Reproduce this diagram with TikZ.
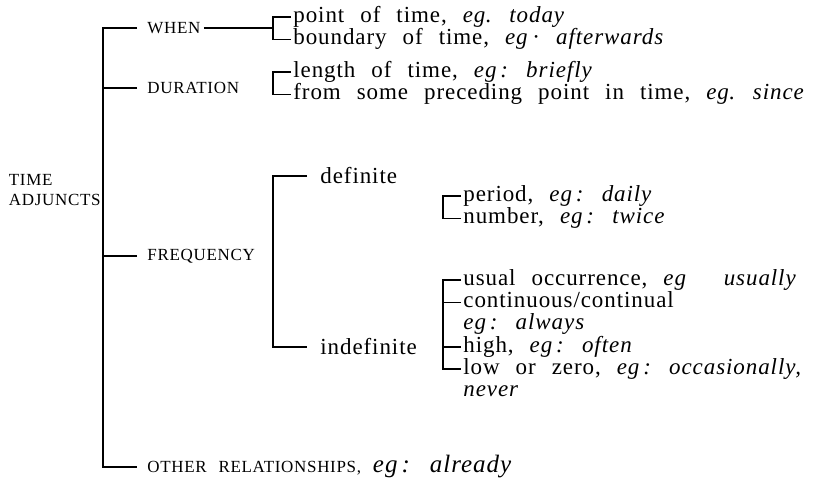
\documentclass[tikz,border=0pt]{standalone}
\usepackage{fontspec}
\setmainfont{Liberation Serif}[LetterSpace=4,WordSpace=2.4]
\usetikzlibrary{positioning}

\begin{document}
\begin{tikzpicture}[
    x=0.5pt, y=-0.5pt,
    node distance=0pt,
    every node/.style={align=left},
    head/.style={
        font=\fontsize{8.5}{10}\selectfont,
        inner xsep=1.5pt,
        inner ysep=0pt,
        anchor=west
    },
    sub/.style={
        font=\fontsize{11.5}{14}\selectfont,
        inner xsep=1.5pt,
        inner ysep=0pt,
        anchor=west
    },
    item/.style={
        font=\fontsize{11.5}{14}\selectfont,
        inner xsep=1pt,
        inner ysep=0pt,
        text height=8pt,
        text depth=2.75pt,
        anchor=west
    },
    br/.style={
        line width=0.8pt
    }
]
\useasboundingbox (0,0) rectangle (827,488);

\node[head, anchor=east, inner xsep=0pt] (root) at (101,190) {TIME\\ADJUNCTS};

\node[head] (when) at (144,28) {WHEN};
\node[head] (duration) at (144,88) {DURATION};
\node[head] (frequency) at (144,256) {FREQUENCY};
\node[head] (other) at (144,467) {OTHER RELATIONSHIPS, {\fontsize{12.5}{14}\selectfont\textit{eg\,: already}}};

\node[item] (point) at (291,17) {point of time, \textit{eg}. \textit{today}};
\node[item, below=of point.south west, anchor=north west] (boundary) {boundary of time, \textit{eg}\,· \textit{afterwards}};

\node[item] (length) at (291,72) {length of time, \textit{eg\,: briefly}};
\node[item, below=of length.south west, anchor=north west] (since) {from some preceding point in time, \textit{eg}. \textit{since}};

\node[sub] (definite) at (317,176) {definite};
\node[sub] (indefinite) at (317,347) {indefinite};

\node[item] (period) at (461,196) {period, \textit{eg\,: daily}};
\node[item, below=of period.south west, anchor=north west] (number) {number, \textit{eg\,: twice}};

\node[item] (usual) at (461,280) {usual occurrence, \textit{eg}\hspace{1.6em}\textit{usually}};
\node[item, below=of usual.south west, anchor=north west] (continuous) {continuous/continual};
\node[item, below=of continuous.south west, anchor=north west] (always) {\textit{eg\,: always}};
\node[item, below=of always.south west, anchor=north west] (high) {high, \textit{eg\,: often}};
\node[item, below=of high.south west, anchor=north west] (low) {low or zero, \textit{eg\,: occasionally,}};
\node[item, below=of low.south west, anchor=north west] (never) {\textit{never}};

% main trunk
\coordinate (trunk) at (103,190);
\draw[br, shorten <=3.5pt, shorten >=3.5pt] (when.west) -| (trunk) |- (other.west);
\draw[br, shorten <=3.5pt] (duration.west) -- (duration.west -| trunk);
\draw[br, shorten <=3.5pt] (frequency.west) -- (frequency.west -| trunk);

% when / duration
\coordinate (wbr) at (273,28);
\draw[br] (when.east) -- (wbr);
\draw[br] (point.west) -| (wbr) |- (boundary.west);
\coordinate (dbr) at (273,80);
\draw[br] (length.west) -| (dbr) |- (since.west);

% frequency
\coordinate (fbr) at (273,256);
\draw[br, shorten <=5pt, shorten >=5pt] (definite.west) -| (fbr) |- (indefinite.west);
\coordinate (dfbr) at (443,207);
\draw[br] (period.west) -| (dfbr) |- (number.west);
\coordinate (ibr) at (443,320);
\draw[br] (usual.west) -| (ibr) |- (low.west);
\draw[br] (continuous.west) -- (continuous.west -| ibr);
\draw[br] (high.west) -- (high.west -| ibr);

\end{tikzpicture}
\end{document}
